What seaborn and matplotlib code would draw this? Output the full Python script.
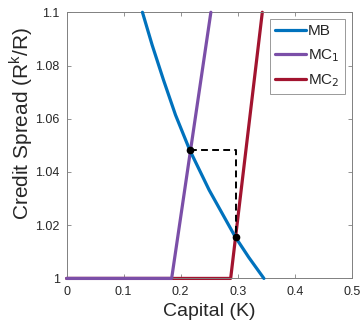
import matplotlib
matplotlib.use("Agg")
import matplotlib.pyplot as plt
import seaborn as sns
import pandas as pd

# ---- data ----
mb_x = [0.1330, 0.1500, 0.1700, 0.1910, 0.2160, 0.2500, 0.2958, 0.3195, 0.3460]
mb_y = [1.1000, 1.0877, 1.0745, 1.0614, 1.0482, 1.0332, 1.0156, 1.0079, 1.0000]
mc1_x = [0.0, 0.1842, 0.253]
mc1_y = [1.0, 1.0, 1.1]
mc2_x = [0.0, 0.2877, 0.3432]
mc2_y = [1.0, 1.0, 1.1]
eq_x = [0.2160, 0.2962]
eq_y = [1.0482, 1.0156]
dash_x = [0.2160, 0.2962, 0.2962]
dash_y = [1.0482, 1.0482, 1.0156]
xticks = [0, 0.1, 0.2, 0.3, 0.4, 0.5]
xticklabels = ["0", "0.1", "0.2", "0.3", "0.4", "0.5"]
yticks = [1.0, 1.02, 1.04, 1.06, 1.08, 1.1]
yticklabels = ["1", "1.02", "1.04", "1.06", "1.08", "1.1"]
labels = ["MB", "MC$_1$", "MC$_2$"]
colors = ["#0072BD", "#7B4FA8", "#A2142F"]

sns.set_style("white")
plt.rcParams["font.family"] = ["Liberation Sans", "DejaVu Sans"]

fig = plt.figure(figsize=(3.62, 3.23), dpi=100)
ax = fig.add_axes([0.184, 0.138, 0.7876, 0.824])

series = [(mb_x, mb_y), (mc1_x, mc1_y), (mc2_x, mc2_y)]
zorders = [4, 3, 2]
for (xs, ys), lab, c, z in zip(series, labels, colors, zorders):
    df = pd.DataFrame({"x": xs, "y": ys})
    sns.lineplot(data=df, x="x", y="y", sort=False, estimator=None, ax=ax,
                 color=c, lw=2.3, label=lab, zorder=z, clip_on=False)

ax.plot(dash_x, dash_y, color="black", lw=1.4, ls=(0, (3.5, 2.2)), zorder=5)
ax.plot(eq_x, eq_y, "o", color="black", ms=4.5, zorder=6)

ax.set_xlim(0, 0.5)
ax.set_ylim(1.0, 1.1)
ax.set_xticks(xticks)
ax.set_xticklabels(xticklabels)
ax.set_yticks(yticks)
ax.set_yticklabels(yticklabels)
ax.tick_params(direction="in", length=3, width=0.6, color="#808080",
               labelsize=9, labelcolor="#262626", top=True, right=True,
               bottom=True, left=True)
ax.tick_params(axis="x", pad=5.5)
ax.tick_params(axis="y", pad=5)
for s in ax.spines.values():
    s.set_color("#808080")
    s.set_linewidth(0.7)

ax.set_xlabel("Capital (K)", fontsize=14, color="#262626", labelpad=3.5)
ax.set_ylabel("Credit Spread (R$^\\mathregular{k}$/R)", fontsize=15,
              color="#262626", labelpad=1)
ax.yaxis.set_label_coords(-0.11, 0.584)

handles, labs = ax.get_legend_handles_labels()
leg = ax.legend(handles, labs, loc="upper right", fontsize=11,
                handlelength=2.0, handletextpad=0.15, borderaxespad=0.45,
                labelspacing=0.55, frameon=True, fancybox=False,
                borderpad=0.35)
leg.get_frame().set_edgecolor("#808080")
leg.get_frame().set_linewidth(0.7)

fig.savefig("out.png", dpi=100)
